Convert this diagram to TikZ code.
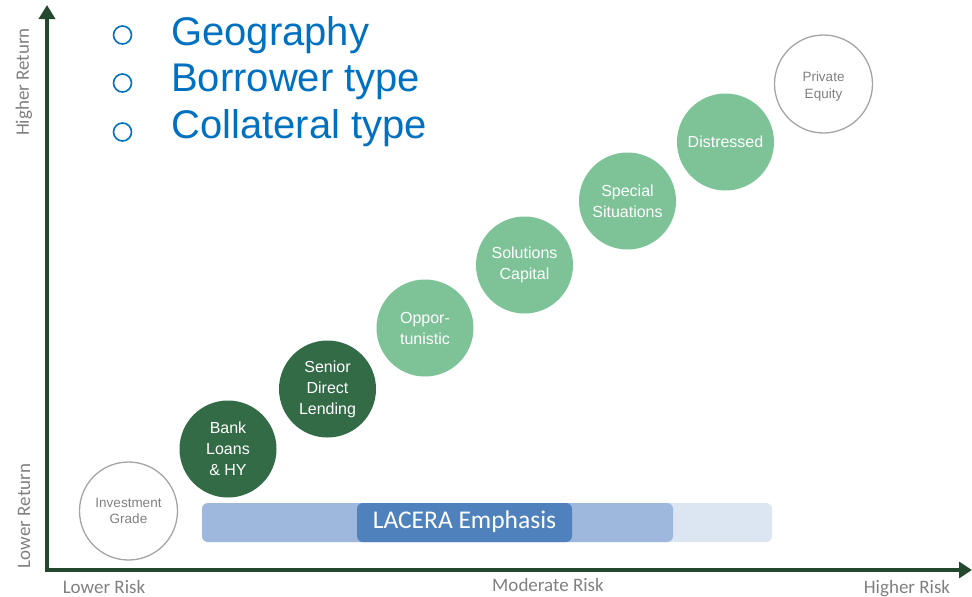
\documentclass[tikz,border=0pt]{standalone}
\usepackage{fontspec}
\setmainfont{Liberation Sans}
\newfontfamily\calib{Carlito}
\usetikzlibrary{arrows.meta}
\definecolor{axisgreen}{RGB}{36,72,46}
\definecolor{darkgreen}{RGB}{51,107,71}
\definecolor{lightgreen}{RGB}{125,195,151}
\definecolor{ringgray}{RGB}{165,165,165}
\definecolor{txtgray}{RGB}{128,128,128}
\definecolor{bulletblue}{RGB}{0,112,192}
\definecolor{barlight}{RGB}{220,229,242}
\definecolor{barmid}{RGB}{157,184,220}
\definecolor{bardark}{RGB}{79,129,189}
\tikzset{
  axis/.style={line width=4.5pt, color=axisgreen, line join=miter,
    {Triangle[length=14pt,width=16pt]}-{Triangle[length=13pt,width=16pt]}},
  axlabel/.style={font=\calib\fontsize{19}{21}\selectfont, text=txtgray, inner sep=0pt},
  ring/.style={circle, draw=ringgray, line width=1.3pt, minimum size=98pt, inner sep=0pt,
    align=center, text=txtgray, font=\fontsize{13.5}{16.5}\selectfont},
  dg/.style={circle, fill=darkgreen, minimum size=97pt, inner sep=0pt,
    align=center, text=white, font=\fontsize{16}{21}\selectfont},
  lg/.style={circle, fill=lightgreen, minimum size=97pt, inner sep=0pt,
    align=center, text=white, font=\fontsize{16}{21}\selectfont},
  bullet/.style={circle, draw=bulletblue, line width=1.6pt, minimum size=18pt, inner sep=0pt},
  btext/.style={anchor=base west, text=bulletblue, font=\fontsize{40}{46}\selectfont, inner sep=0pt},
  bar/.style={rounded corners=6pt},
}
\begin{document}
\begin{tikzpicture}[x=1pt,y=-1pt]
\useasboundingbox (0,0) rectangle (972,597);
% axes
\coordinate (ytop) at (47,5);
\coordinate (corner) at (47,570);
\coordinate (xend) at (972,570);
\draw[axis] (ytop) -- (corner) -- (xend);
\node[axlabel, rotate=90] (hr) at (24,82) {Higher Return};
\node[axlabel, rotate=90] (lr) at (24,516) {Lower Return};
\node[axlabel, anchor=base] (lrisk) at (104,593) {Lower Risk};
\node[axlabel, anchor=base] (mrisk) at (548,591) {Moderate Risk};
\node[axlabel, anchor=base] (hrisk) at (907,593) {Higher Risk};
% bullets
\node[bullet] (b1) at (122.5,35) {};
\node[bullet] (b2) at (122.5,83) {};
\node[bullet] (b3) at (122.5,132) {};
\node[btext] (t1) at (171,45) {Geography};
\node[btext] (t2) at (171,91) {Borrower type};
\node[btext] (t3) at (171,138) {Collateral type};
% bars
\fill[barlight, bar] (202,503) rectangle (772,542);
\fill[barmid, bar] (202,503) rectangle (673,542);
\fill[bardark, bar] (357,503) rectangle (572,542);
\node[text=white, font=\calib\fontsize{25.5}{27}\selectfont, inner sep=0pt] (lac) at (464.5,522) {LACERA Emphasis};
% circles
\node[ring] (ig) at (128.5,511) {Investment\\Grade};
\node[dg] (bl) at (228,449) {Bank\\Loans\\\& HY};
\node[dg] (sdl) at (327.5,389) {Senior\\Direct\\Lending};
\node[lg] (opp) at (425,328) {Oppor-\\tunistic};
\node[lg] (sol) at (524.5,265) {Solutions\\Capital};
\node[lg] (ss) at (627.5,201) {Special\\Situations};
\node[lg] (dis) at (725.5,142) {Distressed};
\node[ring] (pe) at (823.5,84) {};
\node[text=txtgray, align=center, font=\fontsize{13.5}{16.5}\selectfont, inner sep=0pt] (pet) at (823.5,86.5) {Private\\Equity};
\end{tikzpicture}
\end{document}
